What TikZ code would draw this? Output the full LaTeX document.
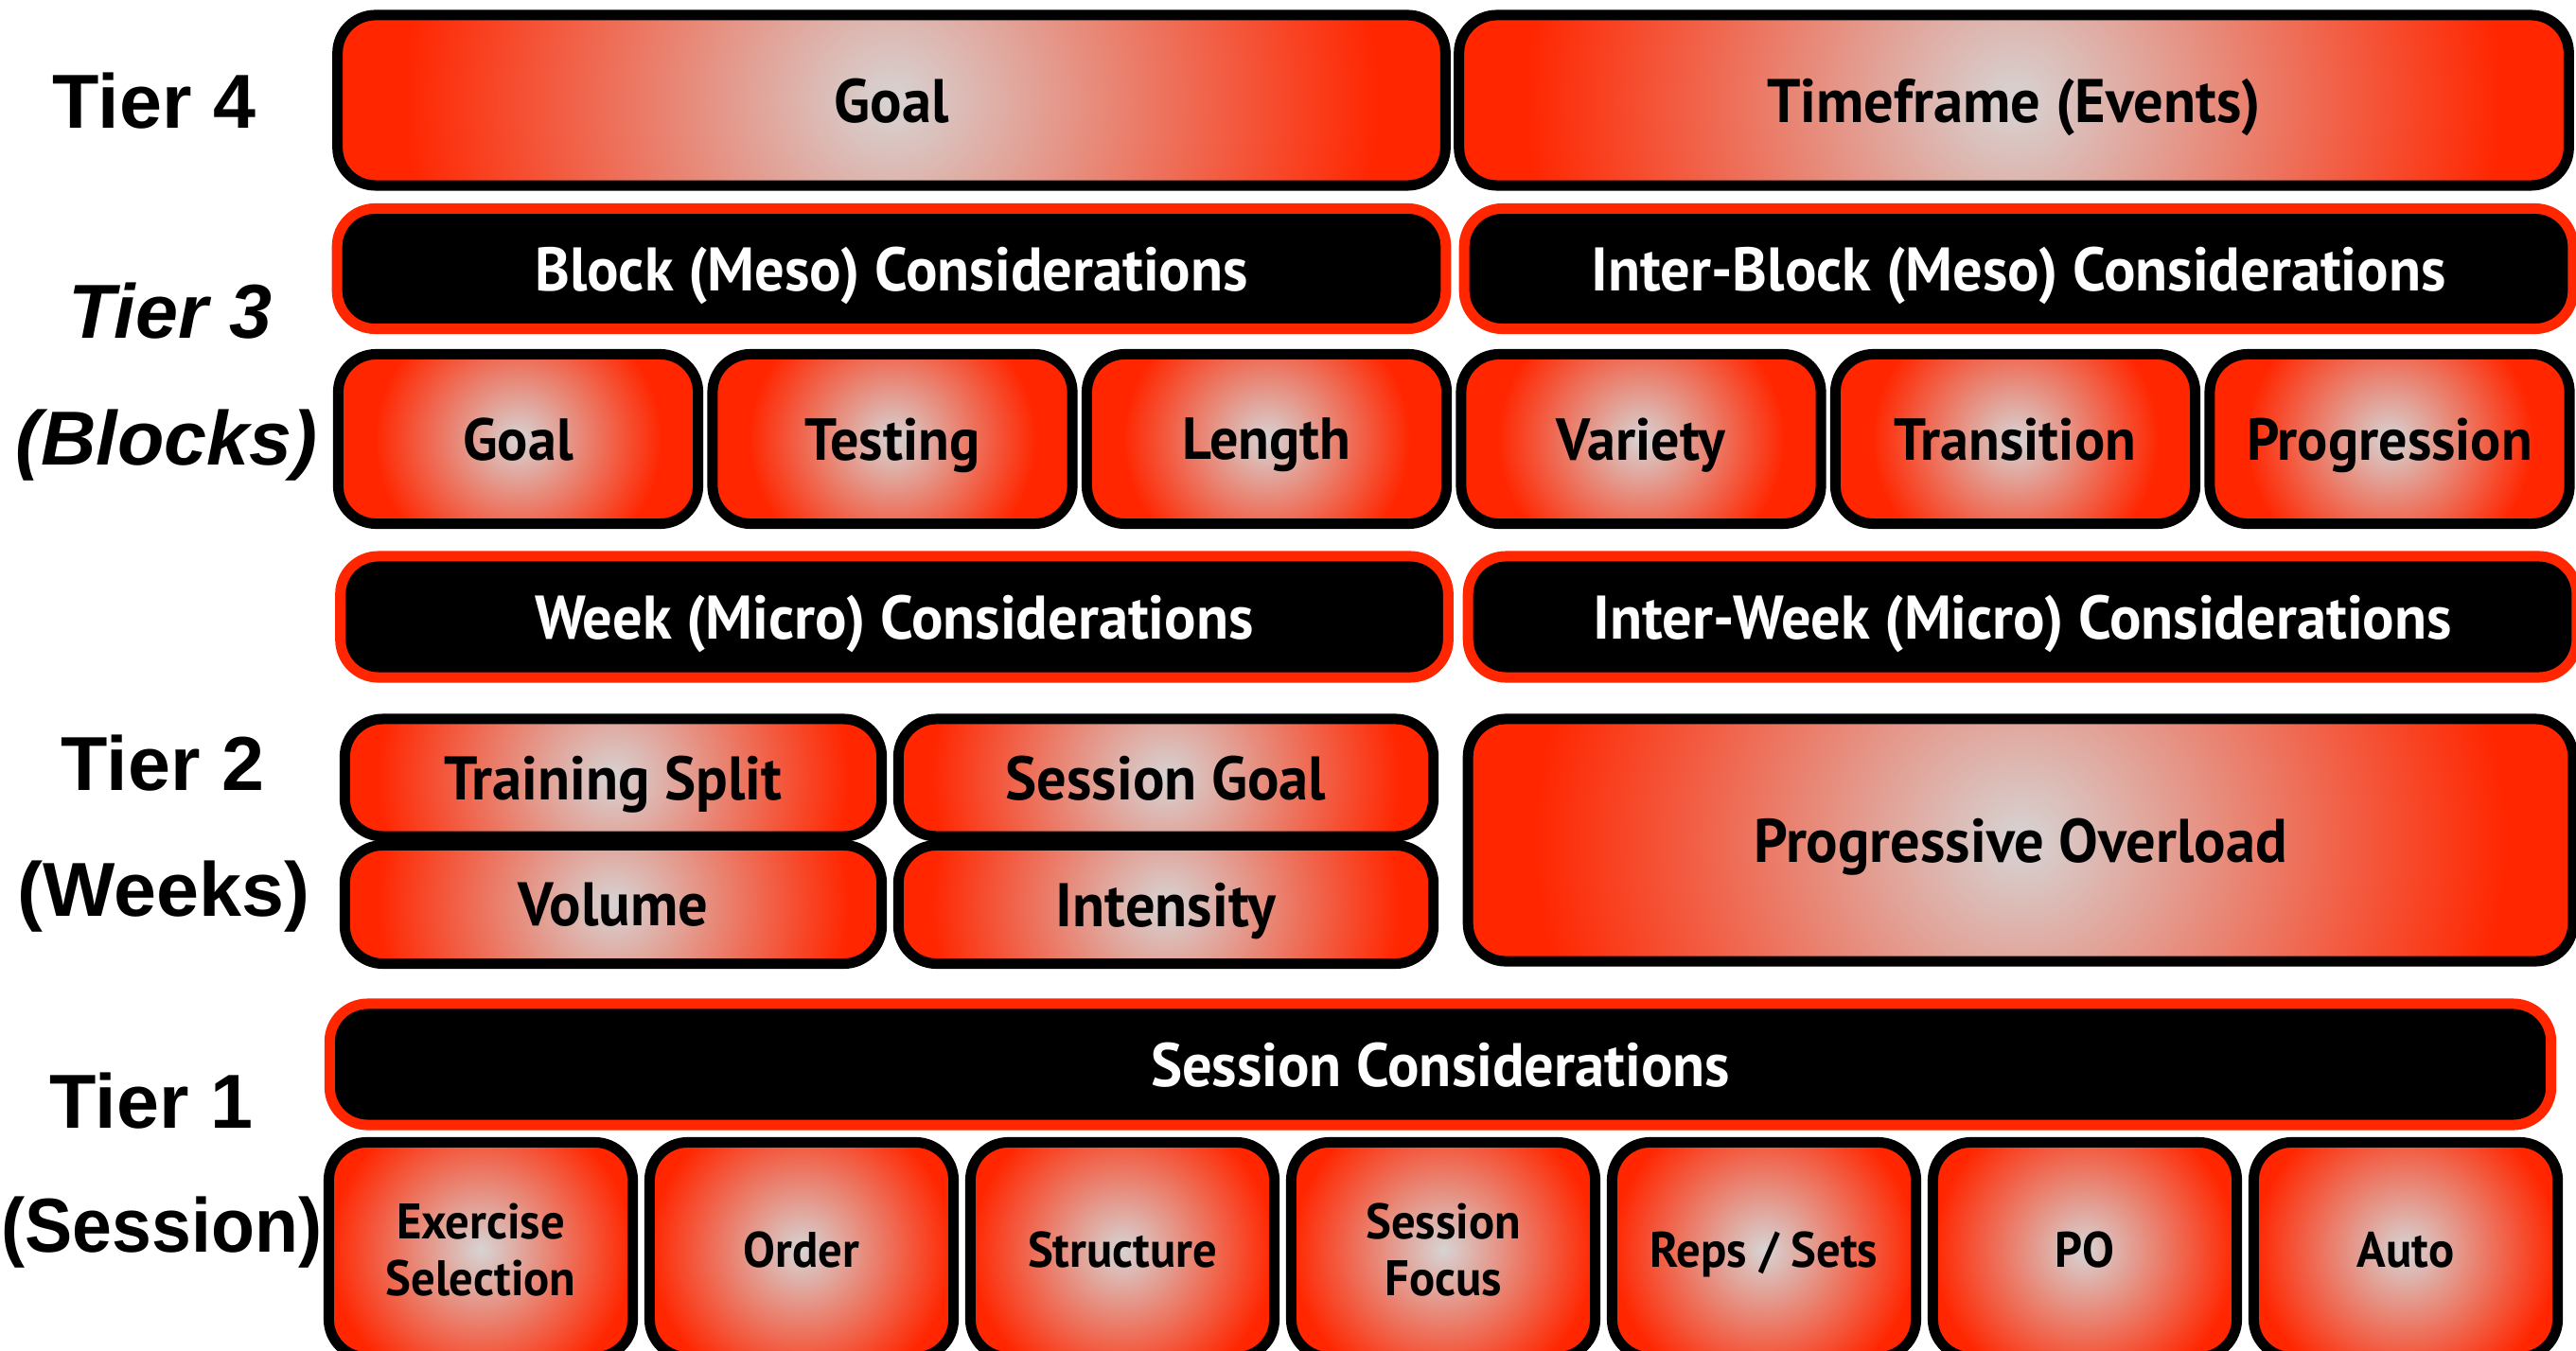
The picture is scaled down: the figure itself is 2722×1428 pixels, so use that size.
\documentclass[tikz,border=0pt]{standalone}
\usepackage{fontspec}
\setmainfont{PT Sans}[FakeStretch=0.96]
\newfontfamily\tierfont{Liberation Sans}
\newfontfamily\tiernarrow{Liberation Sans}[FakeStretch=0.93]

\definecolor{boxred}{HTML}{FF2600}
% grey centre fading out to red; #2 = height/width of the box, #3 = radius where red starts
\newcommand\glowshading[3]{%
  \pgfdeclarefunctionalshading{#1}{\pgfpoint{-50bp}{-50bp}}{\pgfpoint{50bp}{50bp}}{}{
    #2 mul dup mul exch dup mul add sqrt #3 div
    dup 1 gt {pop 1} if
    dup 0.16 mul 0.84 add exch
    dup -0.68 mul 0.83 add exch
    -0.83 mul 0.83 add
  }}
\glowshading{glowwide}{0.16}{22}
\glowshading{glowhalf}{0.23}{22}
\glowshading{glowrow}{0.49}{20}
\glowshading{glowtall}{0.72}{25}

\tikzset{
  glowbox/.style={draw=black, line width=0.11cm, rounded corners=0.4cm, shade, shading=glowrow,
    inner sep=0pt, align=center, text depth=0pt, font=\bfseries\fontsize{18.5}{22}\selectfont},
  darkbox/.style={draw=boxred, fill=black, text=white, line width=0.11cm, rounded corners=0.4cm,
    inner sep=0pt, text depth=0pt, font=\bfseries\fontsize{18.5}{22}\selectfont},
  tier/.style={anchor=base, font=\tierfont\bfseries\fontsize{23}{27}\selectfont},
}

\begin{document}
\begin{tikzpicture}[x=0.01cm,y=-0.01cm]
    \useasboundingbox (0,0) rectangle (2722,1428);
    \clip (0,0) rectangle (2722,1428);

    % tier labels on the left
    \node[tier] (t4) at (163,136) {Tier 4};
    \node[tier] (t3) at (180,358) {\itshape Tier 3};
    \node[tier] (t3b) at (176,492) {\itshape (Blocks)};
    \node[tier] (t2) at (172,835) {Tier 2};
    \node[tier] (t2b) at (173,968) {(Weeks)};
    \node[tier] (t1) at (160,1192) {Tier 1};
    \node[tier] (t1b) at (171,1323) {\tiernarrow (Session)};

    % tier 4
    \node[glowbox, shading=glowwide, minimum width=11.70cm, minimum height=1.80cm] (goal) at (942,106) {Goal};
    \node[glowbox, shading=glowwide, minimum width=11.72cm, minimum height=1.80cm] (time) at (2128,106) {Timeframe (Events)};

    % tier 3
    \node[darkbox, minimum width=11.71cm, minimum height=1.27cm] (meso) at (942,284) {Block (Meso) Considerations};
    \node[darkbox, minimum width=11.71cm, minimum height=1.27cm] (intermeso) at (2133,284) {Inter-Block (Meso) Considerations};
    \foreach \i/\txt in {1/Goal,2/Testing,3/Length,4/Variety,5/Transition,6/Progression}
        \node[glowbox, minimum width=3.80cm, minimum height=1.79cm, font=\bfseries\fontsize{17.8}{21}\selectfont] (b\i) at ({547.5+395.5*(\i-1)},464) {\txt};

    % tier 2
    \node[darkbox, minimum width=11.70cm, minimum height=1.28cm] (micro) at (945,652) {Week (Micro) Considerations};
    \node[darkbox, minimum width=11.71cm, minimum height=1.28cm] (intermicro) at (2137,652) {Inter-Week (Micro) Considerations};
    \node[glowbox, shading=glowhalf, minimum width=5.67cm, minimum height=1.24cm] (split) at (648,822) {Training Split};
    \node[glowbox, shading=glowhalf, minimum width=5.65cm, minimum height=1.24cm] (sgoal) at (1232,822) {Session Goal};
    \node[glowbox, shading=glowhalf, minimum width=5.67cm, minimum height=1.25cm] (volume) at (648,956) {Volume};
    \node[glowbox, shading=glowhalf, minimum width=5.65cm, minimum height=1.25cm] (intensity) at (1232,956) {Intensity};
    \node[glowbox, shading=glowhalf, minimum width=11.67cm, minimum height=2.56cm] (overload) at (2135,888) {Progressive Overload};

    % tier 1
    \node[darkbox, minimum width=23.46cm, minimum height=1.28cm] (session) at (1522,1125) {Session Considerations};
    \foreach \i/\txt in {1/{Exercise\\Selection},2/Order,3/Structure,4/{Session\\Focus},5/{Reps / Sets},6/PO,7/Auto}
        \node[glowbox, shading=glowtall, minimum width=3.21cm, minimum height=2.27cm, font=\bfseries\fontsize{15}{17}\selectfont] (s\i) at ({508+339*(\i-1)},1321) {\txt};
\end{tikzpicture}
\end{document}
